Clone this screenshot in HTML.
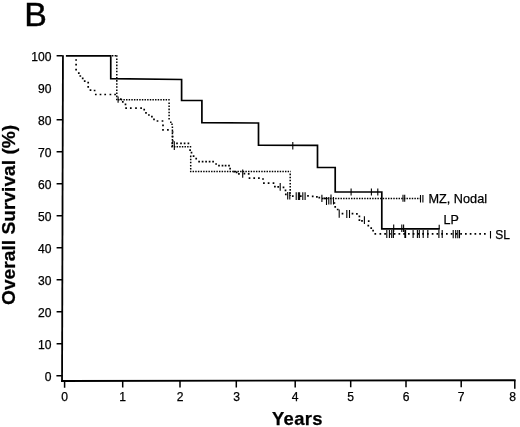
<!DOCTYPE html>
<html>
<head>
<meta charset="utf-8">
<style>
html,body{margin:0;padding:0;background:#fff;}
body{width:520px;height:427px;overflow:hidden;font-family:"Liberation Sans",sans-serif;}
svg{display:block;will-change:transform;transform:translateZ(0);}
text{font-family:"Liberation Sans",sans-serif;fill:#000;stroke:#000;stroke-width:0.25px;}
.t{font-size:12.5px;}
.a{font-size:12.1px;}
</style>
</head>
<body>
<svg width="520" height="427" viewBox="0 0 520 427">
<rect width="520" height="427" fill="#fff"/>
<!-- panel letter -->
<text x="24.3" y="25.6" font-size="33.9" style="stroke-width:0.45px">B</text>
<!-- axes -->
<g stroke="#000" fill="none">
<path d="M62.95,55.2 L62.05,381.9" stroke-width="1.8"/>
<path d="M61.1,381 L515.6,380.25" stroke-width="1.8"/>
<!-- y ticks (no tick at 90 in the source) -->
<g stroke-width="1.5">
<path d="M56.6,55.8H62.5 M56.6,119.8H62.5 M56.6,151.8H62.5 M56.6,183.8H62.5 M56.6,215.8H62.5 M56.6,247.8H62.5 M56.6,279.8H62.5 M56.6,311.8H62.5 M56.6,343.8H62.5 M56.4,375.8H62.5"/>
</g>
<!-- x ticks -->
<g stroke-width="1.5">
<path d="M64.6,381V387.8 M122.7,381V387.5 M180,381V387.5 M236.3,381V387.5 M295.2,380.7V387.4 M350.7,380.5V387.2 M406,380.4V387.2 M461.2,380.3V387.2 M514.8,380.2V388.8"/>
</g>
</g>
<!-- y labels -->
<g class="a" text-anchor="end">
<text x="51.5" y="61">100</text><text x="51.5" y="93">90</text><text x="51.5" y="125">80</text><text x="51.5" y="157">70</text>
<text x="51.5" y="189">60</text><text x="51.5" y="221">50</text><text x="51.5" y="253">40</text><text x="51.5" y="285">30</text>
<text x="51.5" y="317">20</text><text x="51.5" y="349">10</text><text x="51.5" y="381">0</text>
</g>
<!-- x labels -->
<g class="a" text-anchor="middle">
<text x="64.5" y="401.3">0</text><text x="122.7" y="401.3">1</text><text x="180" y="401.3">2</text><text x="236.5" y="401.3">3</text>
<text x="295" y="401.3">4</text><text x="350.7" y="401.3">5</text><text x="406" y="401.3">6</text><text x="461.2" y="401.3">7</text><text x="512.5" y="401.3">8</text>
</g>
<!-- axis titles -->
<text x="272" y="424.9" font-size="18.4" font-weight="bold" letter-spacing="0.35">Years</text>
<text transform="translate(15,305) rotate(-90)" font-size="19.2" font-weight="bold">Overall Survival (%)</text>
<!-- curves -->
<g fill="none" stroke="#000">
<!-- LP solid -->
<path d="M65.9,55.8 H110.75 V78.7 L181.6,79.5 V100.5 H201.9 V122.7 L258.5,123 V145.1 L317.5,145.4 V167.5 H335.2 V192 H381.8 V228.95 H439.6" stroke-width="1.7" stroke-linejoin="miter"/>
<!-- MZ dotted: horizontals -->
<path d="M112,55.8H116 M118.1,99.8H169.8 M171.3,146.7H191.4 M189.95,171.45H290.9 M322,198.4H420" stroke-width="1.5" stroke-dasharray="1.45 1.19"/>
<!-- MZ dotted: verticals -->
<path d="M116.8,55.3V100.4 M169.1,102.4V121 M172.4,126.5V147.4 M190.7,155.6V169.6 M290.2,173.6V196" stroke-width="1.5" stroke-dasharray="1.55 1.55"/>
<path d="M170.8,122.3h0M172,124.3h0" stroke-width="1.5" stroke-linecap="square"/>
<!-- SL dotted -->
<path d="M76.1,60h0M76.1,64.6h0M76.1,69.6h0M78.8,73.1h0M80.3,76h0M82.7,78.4h0M84.7,81.1h0M88.2,82.7h0M88.2,86.9h0M90.5,90.1h0M94.6,90.5h0M95.8,94.5h0M100.5,94.5h0M105.2,94.5h0M110.4,94.5h0M115.1,94.5h0M120.8,99.1h0M122.8,101.8h0M125.5,104.4h0M126.1,108.2h0M130.8,108.2h0M136,108.2h0M141.1,108.2h0M144.2,109.7h0M146,112.9h0M148.9,115h0M151.9,116.7h0M154,119.4h0M157.5,121h0M162.5,121h0M163,125.3h0M163,129.8h0M167.9,129.8h0M172.6,132h0M172.6,136.6h0M172.8,141h0M172.3,143.3h0M177,143.3h0M181,143.3h0M184.6,143.3h0M188.4,143.3h0M190.1,150.1h0M191.5,152.7h0M193.6,156.2h0M196.2,158.6h0M199.1,161.6h0M202.6,161.6h0M206.1,161.6h0M209.6,161.6h0M213.1,161.6h0M216.1,164h0M219,165.7h0M222.5,165.7h0M225.6,165.7h0M229,165.7h0M230.1,168.7h0M234.2,171.6h0M236.6,172.4h0M238.9,173.8h0M244.4,173.7h0M248.7,173.9h0M249.5,178.2h0M254.2,178.2h0M258.9,178.2h0M263,179h0M263.9,183.1h0M268.6,183.1h0M273.5,183.1h0M274.9,186.6h0M278.2,186.9h0M283.5,187.4h0M285.5,190.3h0M285.8,194.4h0M292.8,196.2h0M300.8,196.2h0M308,195.8h0M312.7,196.3h0M316.9,196.9h0M319.3,197.7h0M324.4,198.4h0M334.4,203h0M335.2,206.9h0M337.7,209.5h0M342.5,213.6h0M352.5,213.6h0M356.9,213.8h0M359.4,216.3h0M359.4,220.2h0M362,220.8h0M368.7,221.2h0M368.3,225.6h0M371.2,228.1h0M373.1,230.6h0M375.3,233.8h0M484.85,233.9h0M480.1,233.9h0M475.35,233.9h0M470.6,233.9h0M465.85,233.9h0M461.1,233.9h0M456.35,233.9h0M451.6,233.9h0M446.85,233.9h0M442.1,233.9h0M437.35,233.9h0M432.6,233.9h0M427.85,233.9h0M423.1,233.9h0M418.35,233.9h0M413.6,233.9h0M408.85,233.9h0M404.1,233.9h0M399.35,233.9h0M394.6,233.9h0M389.85,233.9h0M385.1,233.9h0M380.35,233.9h0" stroke-width="1.7" stroke-linecap="square"/>
<!-- censor ticks -->
<g stroke-width="1.1">
<!-- LP -->
<path d="M292.8,142V149.5 M351.1,188.5V195.5 M371.4,188.5V195.5 M377.8,188.5V195.5 M393.7,224.5V232 M401.8,224.5V232 M403.6,224.5V232 M439.2,224.8V229.6"/>
<!-- MZ -->
<path d="M403,194.7V201.8 M404.7,194.7V201.8 M420.5,195V202.4 M422.9,195V202.4"/>
<!-- SL -->
<path d="M118.1,96.6V102.7 M174.3,141.3V150.1 M242.7,169.6V177.8 M280.2,183.1V190.7
M287.7,191.9V199.5 M289.8,191.9V199.5 M296.2,192.3V200 M298.4,192.3V200 M299.6,192.3V200 M302.8,192.3V200 M305.1,192.3V200
M321.9,194.7V202 M326.5,197V205 M328.8,197V204.4 M331,194.5V204.4 M333.5,197V204.4
M339.2,209.6V217.8 M346.8,210V218 M349.5,210V218 M364.4,216.2V224
M386.8,229.9V238.1 M389.4,229.9V238.1 M391.7,229.9V238.1 M393.4,229.9V238.1 M404.9,229.9V238.1 M405.6,229.9V238.1 M413.1,229.9V238.1 M417.4,229.9V238.1 M419.3,229.9V238.1 M423.2,229.9V238.1 M427.8,229.9V238.1 M438.9,229.9V238.1 M442.2,229.9V238.1 M453.2,230.1V238.2 M455.7,230.1V238.2 M457.8,230.1V238.2 M459.5,230.1V238.2 M490.5,231V238.4"/>
</g>
</g>
<!-- curve labels -->
<g class="t">
<text x="428.5" y="203.2" font-size="12.7">MZ, Nodal</text>
<text x="443.5" y="224.4">LP</text>
<text x="495.2" y="239.1" font-size="12">SL</text>
</g>
</svg>
</body>
</html>
